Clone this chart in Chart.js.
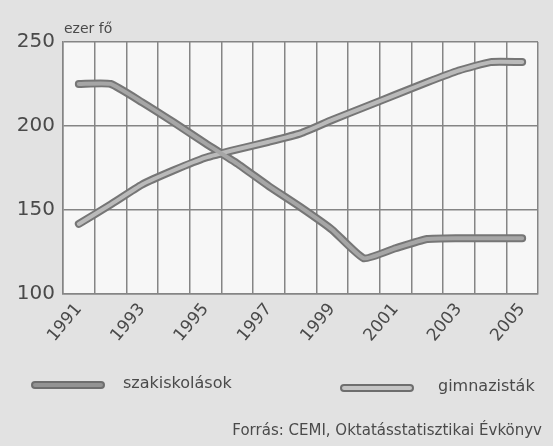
<!DOCTYPE html>
<html>
<head>
<meta charset="utf-8">
<script src="https://cdn.jsdelivr.net/npm/chart.js@4.4.1/dist/chart.umd.min.js"></script>
<style>
  body { margin: 0; background: #e2e2e2; font-family: "DejaVu Sans", sans-serif; color: #4a4a4a; }
  #wrap { position: relative; width: 553px; height: 446px; }
  #unit { position: absolute; left: 64px; top: 20px; font-size: 14px; color: #4a4a4a; }
  .leg { position: absolute; font-size: 16px; color: #4a4a4a; }
  .sample { position: absolute; height: 4px; border-radius: 4px; border: 2px solid #6e6e6e; }
  #src { position: absolute; right: 11px; top: 421px; font-size: 15px; color: #4a4a4a; }
</style>
</head>
<body>
<div id="wrap">
  <canvas id="myChart"></canvas>
  <div id="unit">ezer fő</div>
  <div class="sample" style="left:31px; top:381px; width:70px; background:#939393;"></div>
  <div class="leg" style="left:123px; top:373px;">szakiskolások</div>
  <div class="sample" style="left:340px; top:384px; width:70px; background:#c4c4c4;"></div>
  <div class="leg" style="left:438px; top:376px;">gimnazisták</div>
  <div id="src">Forrás: CEMI, Oktatásstatisztikai Évkönyv</div>
</div>
<script>
//DATA
const years = ["1991", "1992", "1993", "1994", "1995", "1996", "1997", "1998", "1999", "2000", "2001", "2002", "2003", "2004", "2005"];
const szakiskolasok = [225, 225, 214, 202, 189.5, 177.5, 164, 151.5, 138, 121, 127, 132.5, 133, 133, 133];
const gimnazistak = [141.5, 153, 165, 173.5, 181, 186, 190.5, 195.5, 203.5, 211, 218.5, 226, 233, 238, 238];
const yTicks = [100, 150, 200, 250];

//LINE STYLE (dark outline + light core)
const outer = (label, data) => ({
    label: label, data: data, order: 2,
    borderColor: '#767676', borderWidth: 8,
    borderCapStyle: 'round', borderJoinStyle: 'round',
    pointRadius: 0, tension: 0.15
});
const inner = (label, data, color) => ({
    label: label, data: data, order: 1,
    borderColor: color, borderWidth: 4,
    borderCapStyle: 'round', borderJoinStyle: 'round',
    pointRadius: 0, tension: 0.15
});

//plot background
const plotBg = {
    id: 'plotBg',
    beforeDraw: (chart) => {
        const a = chart.chartArea;
        chart.ctx.save();
        chart.ctx.fillStyle = '#f7f7f7';
        chart.ctx.fillRect(a.left, a.top, a.right - a.left, a.bottom - a.top);
        chart.ctx.restore();
    }
};

const config = {
    type: 'line',
    data: {
        labels: years,
        datasets: [
            outer('szakiskolások', szakiskolasok),
            outer('gimnazisták', gimnazistak),
            inner('szakiskolások', szakiskolasok, '#a6a6a6'),
            inner('gimnazisták', gimnazistak, '#bababa')
        ]
    },
    options: {
        responsive: true,
        maintainAspectRatio: false,
        animation: false,
        layout: { padding: { left: 0, top: 42, right: 15, bottom: 0 } },
        plugins: { legend: { display: false }, tooltip: { enabled: false } },
        scales: {
            x: {
                offset: true,
                grid: { offset: true, color: '#858585', lineWidth: 1.5, drawTicks: false },
                border: { color: '#858585', width: 1.5 },
                ticks: {
                    autoSkip: false, minRotation: 50, maxRotation: 50, padding: 6,
                    color: '#4a4a4a', font: { family: 'DejaVu Sans', size: 17 },
                    callback: (v, i) => i % 2 === 0 ? years[i] : ''
                },
                afterFit: (scale) => { scale.height = 152.5; }
            },
            y: {
                min: yTicks[0], max: yTicks[yTicks.length - 1],
                grid: { color: '#858585', lineWidth: 1.5, drawTicks: false },
                border: { color: '#858585', width: 1.5 },
                afterBuildTicks: (scale) => { scale.ticks = yTicks.map(v => ({ value: v })); },
                ticks: { padding: 8, color: '#4a4a4a', font: { family: 'DejaVu Sans', size: 20 } },
                afterFit: (scale) => { scale.width = 63; }
            }
        }
    },
    plugins: [plotBg]
};

var myChart = new Chart(document.querySelector('#myChart'), config);
</script>
</body>
</html>
